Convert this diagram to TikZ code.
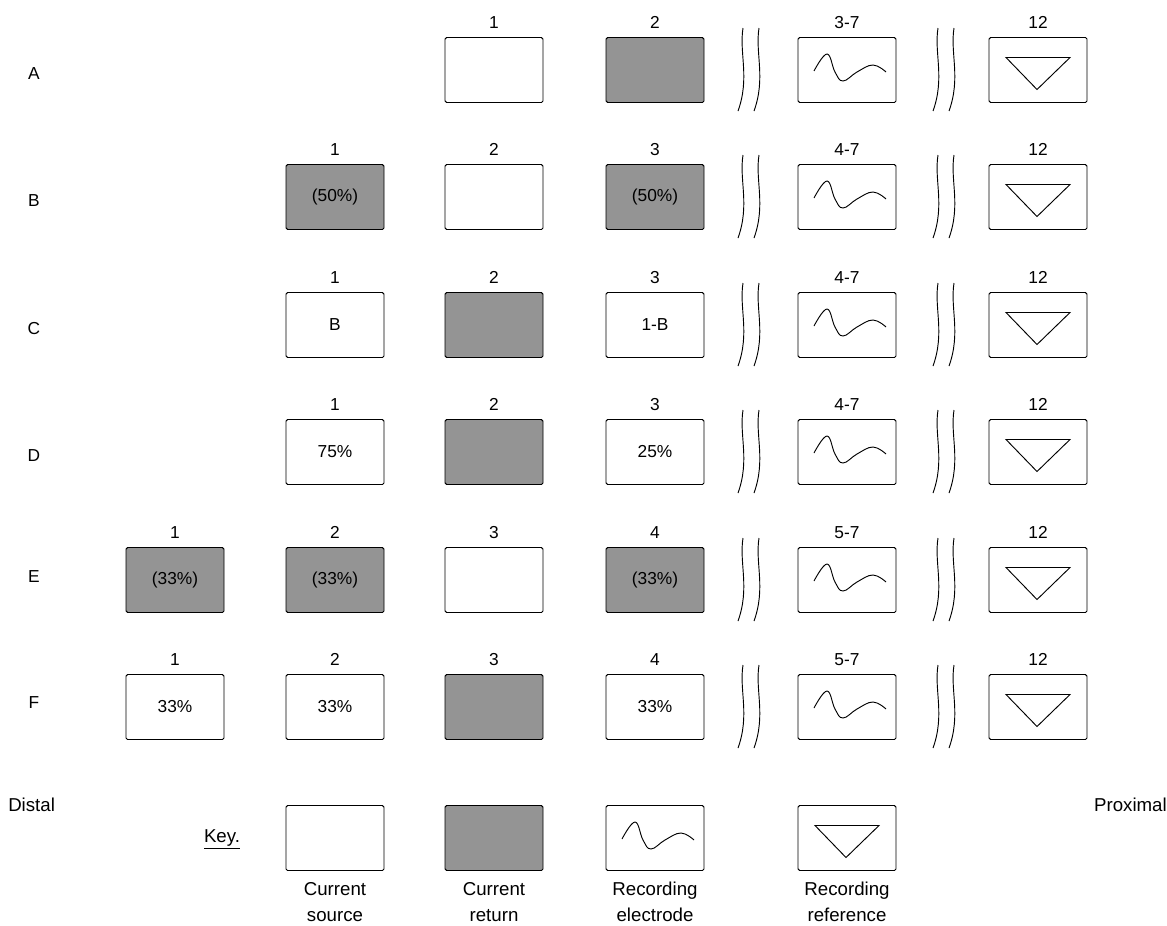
\documentclass[tikz,border=0pt]{standalone}
\usepackage{fontspec}
\setmainfont{Liberation Sans}
\usetikzlibrary{calc}
\tikzset{
  x=0.75pt, y=-0.75pt,
  ebase/.style={draw=black, line width=0.7pt, rounded corners=1.2pt, minimum width=73.5pt, minimum height=48.75pt, inner sep=0pt, font=\fontsize{13}{15}\selectfont},
  srcbox/.style={ebase, fill=white},
  retbox/.style={ebase, fill=black!42},
  numlbl/.style={font=\fontsize{13}{15}\selectfont, inner sep=0pt},
  rowlbl/.style={font=\fontsize{13}{15}\selectfont, inner sep=0pt},
  wig/.style={line width=0.7pt},
  sym/.style={line width=0.7pt},
  txt/.style={font=\fontsize{14}{19.5}\selectfont, inner sep=0pt, align=center}
}
% name, x, y, style, label, content
\newcommand\ebox[6]{\node[#4] (#1) at (#2,#3) {#6};
  \node[numlbl] (#1l) at ([yshift=11pt]#1.north) {#5};}
\newcommand\wig[2]{%
  \draw[wig] (#1+1,#2-42) .. controls (#1-3,#2-17) and (#1+8,#2+8) .. (#1-4,#2+41);
  \draw[wig] (#1+17,#2-42) .. controls (#1+13,#2-17) and (#1+24,#2+8) .. (#1+12,#2+41);}
\newcommand\wave[1]{%
  \draw[sym] plot[smooth, tension=0.7] coordinates {($(#1)+(-33,1)$) ($(#1)+(-20,-16)$) ($(#1)+(-12,2)$) ($(#1)+(-4,11)$) ($(#1)+(10,2)$) ($(#1)+(26,-5)$) ($(#1)+(39,2)$)};}
\newcommand\tri[1]{%
  \draw[sym] ($(#1)+(-32,-12.5)$) -- ($(#1)+(32,-12.5)$) -- ($(#1)+(-1,19.5)$) -- cycle;}
\newcommand\tail[3]{% prefix, y, first rec label
  \wig{742}{#2}
  \ebox{#1r}{847}{#2}{srcbox}{#3}{} \wave{#1r}
  \wig{937}{#2}
  \ebox{#1f}{1038}{#2}{srcbox}{12}{} \tri{#1f}}
\begin{document}
\begin{tikzpicture}
\useasboundingbox (0,0) rectangle (1167,925);
% Row A
\node[rowlbl] (rA) at (34,74) {A};
\ebox{A2}{494}{70}{srcbox}{1}{}
\ebox{A3}{655}{70}{retbox}{2}{}
\tail{A}{70}{3-7}
% Row B
\node[rowlbl] (rB) at (34,201) {B};
\ebox{B1}{335}{197}{retbox}{1}{(50\%)}
\ebox{B2}{494}{197}{srcbox}{2}{}
\ebox{B3}{655}{197}{retbox}{3}{(50\%)}
\tail{B}{197}{4-7}
% Row C
\node[rowlbl] (rC) at (34,329) {C};
\ebox{C1}{335}{325}{srcbox}{1}{B}
\ebox{C2}{494}{325}{retbox}{2}{}
\ebox{C3}{655}{325}{srcbox}{3}{1-B}
\tail{C}{325}{4-7}
% Row D
\node[rowlbl] (rD) at (34,456) {D};
\ebox{D1}{335}{452}{srcbox}{1}{75\%}
\ebox{D2}{494}{452}{retbox}{2}{}
\ebox{D3}{655}{452}{srcbox}{3}{25\%}
\tail{D}{452}{4-7}
% Row E
\node[rowlbl] (rE) at (34,577) {E};
\ebox{E0}{175}{580}{retbox}{1}{(33\%)}
\ebox{E1}{335}{580}{retbox}{2}{(33\%)}
\ebox{E2}{494}{580}{srcbox}{3}{}
\ebox{E3}{655}{580}{retbox}{4}{(33\%)}
\tail{E}{580}{5-7}
% Row F
\node[rowlbl] (rF) at (34,703) {F};
\ebox{F0}{175}{707}{srcbox}{1}{33\%}
\ebox{F1}{335}{707}{srcbox}{2}{33\%}
\ebox{F2}{494}{707}{retbox}{3}{}
\ebox{F3}{655}{707}{srcbox}{4}{33\%}
\tail{F}{707}{5-7}
% Bottom
\node[txt, anchor=west] (distal) at (8,805) {Distal};
\node[txt, anchor=east] (prox) at (1167,805) {Proximal};
\node[txt] (key) at (222,839) {\underline{Key.}};
\node[srcbox] (K1) at (335,838) {};
\node[retbox] (K2) at (494,838) {};
\node[srcbox] (K3) at (655,838) {}; \wave{K3}
\node[srcbox] (K4) at (847,838) {}; \tri{K4}
\node[txt] (K1t) at (335,902) {Current\\source};
\node[txt] (K2t) at (494,902) {Current\\return};
\node[txt] (K3t) at (655,902) {Recording\\electrode};
\node[txt] (K4t) at (847,902) {Recording\\reference};
\end{tikzpicture}
\end{document}
